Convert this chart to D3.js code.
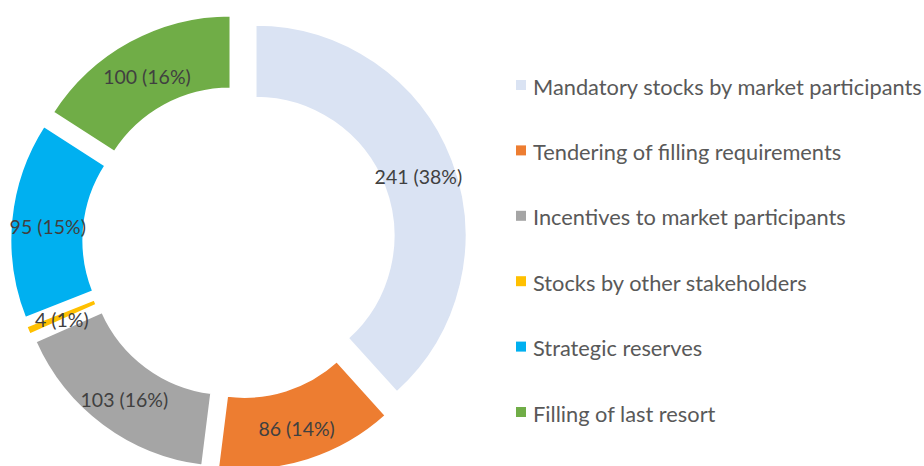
<!DOCTYPE html>
<html>
<head>
<meta charset="utf-8">
<script src="https://cdn.jsdelivr.net/npm/d3@7"></script>
<style>
  html, body { margin: 0; padding: 0; background: #fff; }
  svg { display: block; }
</style>
</head>
<body>
<svg id="chart" width="924" height="466"></svg>
<script>
const categories = [
  "Mandatory stocks by market participants",
  "Tendering of filling requirements",
  "Incentives to market participants",
  "Stocks by other stakeholders",
  "Strategic reserves",
  "Filling of last resort"
];
const values = [241, 86, 103, 4, 95, 100];
const colors = ["#DAE3F3", "#ED7D31", "#A5A5A5", "#FFC000", "#00B0F0", "#70AD47"];

const svg = d3.select("#chart");
const cx = 239, cy = 242, outerR = 211, innerR = 138, explode = 17.7;
const total = d3.sum(values);

const pie = d3.pie().sort(null).value(d => d)(values);
const arc = d3.arc().innerRadius(innerR).outerRadius(outerR);
const labelArc = d3.arc().innerRadius((innerR + outerR) / 2).outerRadius((innerR + outerR) / 2);

const g = svg.append("g").attr("transform", `translate(${cx},${cy})`);

const offset = d => {
  const a = (d.startAngle + d.endAngle) / 2;
  return [explode * Math.sin(a), -explode * Math.cos(a)];
};

g.selectAll("path.slice").data(pie).join("path")
  .attr("class", "slice")
  .attr("d", arc)
  .attr("fill", (d, i) => colors[i])
  .attr("stroke", "#fff")
  .attr("stroke-width", 2)
  .attr("transform", d => { const o = offset(d); return `translate(${o[0]},${o[1]})`; });

g.selectAll("text.lbl").data(pie).join("text")
  .attr("class", "lbl")
  .attr("x", d => labelArc.centroid(d)[0] + offset(d)[0])
  .attr("y", d => labelArc.centroid(d)[1] + offset(d)[1] + 3)
  .attr("text-anchor", "middle")
  .attr("dominant-baseline", "central")
  .attr("font-family", "Lato, 'Open Sans', sans-serif")
  .attr("font-size", 19.5)
  .attr("fill", "#404040")
  .text(d => `${d.data} (${Math.round(d.data / total * 100)}%)`);

// Legend
const legendY = d3.scalePoint().domain(categories).range([85, 412]);
const leg = svg.append("g");
const items = leg.selectAll("g").data(categories).join("g")
  .attr("transform", d => `translate(516,${legendY(d)})`);
items.append("rect")
  .attr("x", 0).attr("y", -5).attr("width", 10).attr("height", 10)
  .attr("fill", (d, i) => colors[i]);
items.append("text")
  .attr("x", 17).attr("y", 1)
  .attr("dominant-baseline", "central")
  .attr("font-family", "Lato, 'Open Sans', sans-serif")
  .attr("font-size", 21.8)
  .attr("fill", "#595959")
  .text(d => d);
</script>
</body>
</html>
